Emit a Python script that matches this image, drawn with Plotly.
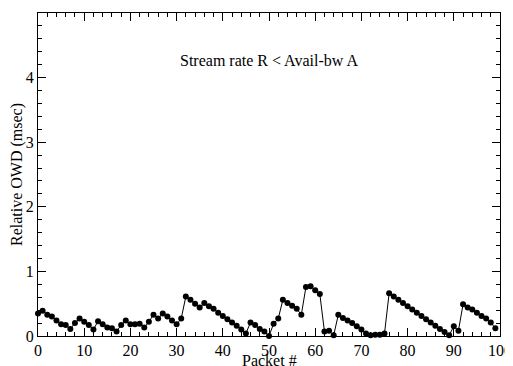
import plotly.graph_objects as go

packets = list(range(100))
owd = [0.35, 0.39, 0.33, 0.30, 0.24, 0.18, 0.17, 0.11, 0.20, 0.27,
       0.22, 0.17, 0.10, 0.23, 0.18, 0.13, 0.12, 0.07, 0.17, 0.24,
       0.18, 0.18, 0.19, 0.13, 0.22, 0.33, 0.27, 0.35, 0.30, 0.24,
       0.18, 0.27, 0.61, 0.56, 0.50, 0.44, 0.51, 0.46, 0.42, 0.36,
       0.31, 0.26, 0.21, 0.16, 0.10, 0.04, 0.21, 0.17, 0.11, 0.07,
       0.00, 0.19, 0.27, 0.56, 0.51, 0.47, 0.42, 0.33, 0.76, 0.77,
       0.71, 0.65, 0.07, 0.08, 0.01, 0.33, 0.28, 0.24, 0.20, 0.15,
       0.10, 0.04, 0.01, 0.02, 0.02, 0.04, 0.66, 0.61, 0.56, 0.51,
       0.46, 0.41, 0.36, 0.31, 0.26, 0.21, 0.16, 0.11, 0.06, 0.01,
       0.15, 0.08, 0.49, 0.44, 0.41, 0.36, 0.31, 0.27, 0.21, 0.12]

annotation_text = "Stream rate R < Avail-bw A"
x_title = "Packet #"
y_title = "Relative OWD (msec)"

font_family = "Liberation Serif"
fs = 16

fig = go.Figure()
fig.add_trace(go.Scatter(
    x=packets, y=owd, mode="lines+markers",
    line=dict(color="black", width=1),
    marker=dict(color="black", size=6, symbol="circle"),
    showlegend=False, cliponaxis=False,
))

axis_common = dict(
    showline=True, linecolor="black", linewidth=1, mirror="ticks",
    ticks="inside", ticklen=8, tickwidth=1, tickcolor="black",
    showgrid=False, zeroline=False, automargin=False,
    tickfont=dict(family=font_family, size=fs, color="black"),
)

fig.update_xaxes(
    range=[0, 100], dtick=10, tick0=0,
    minor=dict(dtick=2, ticks="inside", ticklen=4, tickcolor="black", showgrid=False),
    ticklabelstandoff=0,
    **axis_common,
)
fig.update_yaxes(
    range=[0, 5], dtick=1, tick0=0,
    minor=dict(dtick=0.2, ticks="inside", ticklen=4, tickcolor="black", showgrid=False),
    title=dict(text=y_title, font=dict(family=font_family, size=fs, color="black"), standoff=0),
    ticklabelstandoff=0,
    **axis_common,
)

fig.add_annotation(
    x=50, y=4.27, xref="x", yref="y", text=annotation_text, showarrow=False,
    font=dict(family=font_family, size=fs, color="black"),
)
# x-axis title, placed below the tick labels (partly cut by the window edge, as in the original)
fig.add_annotation(
    x=0.5, y=0, xref="paper", yref="paper", text=x_title, showarrow=False,
    xanchor="center", yanchor="top", yshift=-14,
    font=dict(family=font_family, size=fs, color="black"),
)

# the page body has an 8px margin, so the figure is sized to end at the window edge
fig.update_layout(
    width=505, height=358,
    margin=dict(l=30, r=13, t=5, b=30),
    paper_bgcolor="white", plot_bgcolor="white",
    font=dict(family=font_family, color="black"),
)

fig.write_html("out.html")
